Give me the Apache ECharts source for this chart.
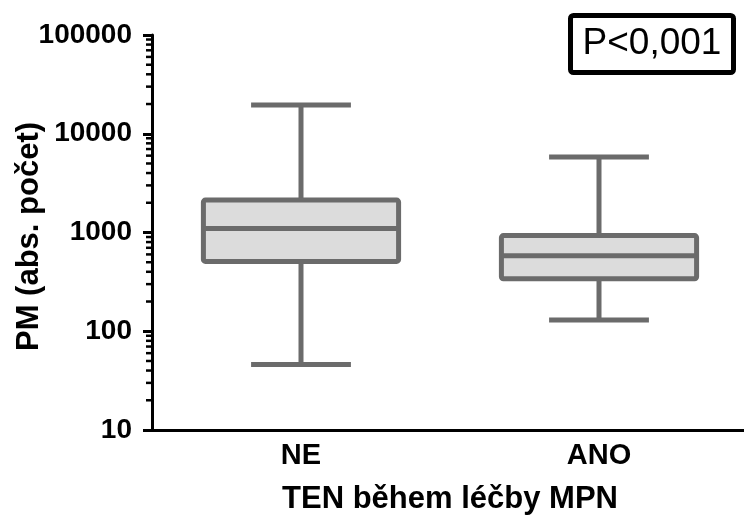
<!DOCTYPE html>
<html>
<head>
<meta charset="utf-8">
<script src="https://cdn.jsdelivr.net/npm/echarts@6/dist/echarts.min.js"></script>
<style>html,body{margin:0;padding:0;background:#fff;}#c{width:744px;height:526px;}</style>
</head>
<body>
<div id="c"></div>
<script>
// Data
const categories = ['NE', 'ANO'];
const whiskerLow = [46, 130];
const q1 = [510, 340];
const median = [1100, 580];
const q3 = [2130, 930];
const whiskerHigh = [19500, 5800];
const yTicks = [10, 100, 1000, 10000, 100000];
const minorMultipliers = [2, 3, 4, 5, 6, 7, 8, 9];
const pText = 'P<0,001';

const boxData = categories.map((c, i) => [i, whiskerLow[i], q1[i], median[i], q3[i], whiskerHigh[i]]);
const minorTickValues = [];
for (let d = 0; d < yTicks.length - 1; d++) {
  minorMultipliers.forEach(m => minorTickValues.push([0, yTicks[d] * m]));
}

const STROKE = '#6b6b6b';
const FILL = '#dcdcdc';
const FONT = '"Liberation Sans", Arial, Helvetica, sans-serif';

const chart = echarts.init(document.getElementById('c'), null, {renderer: 'canvas'});
chart.setOption({
  backgroundColor: '#ffffff',
  animation: false,
  grid: {left: 152, right: -4, top: 35, bottom: 96, containLabel: false, outerBoundsMode: 'none'},
  xAxis: {
    type: 'category',
    data: categories,
    boundaryGap: true,
    axisLine: {lineStyle: {color: '#000', width: 3}},
    axisTick: {alignWithLabel: true, length: 9, lineStyle: {color: '#000', width: 3}},
    axisLabel: {color: '#000', fontSize: 29, fontWeight: 'bold', fontFamily: FONT, margin: 11},
    name: 'TEN během léčby MPN',
    nameLocation: 'middle',
    nameGap: 54,
    nameMoveOverlap: false,
    nameTextStyle: {color: '#000', fontSize: 31, fontWeight: 'bold', fontFamily: FONT},
    splitLine: {show: false}
  },
  yAxis: {
    type: 'log',
    logBase: 10,
    min: 10,
    max: 100000,
    axisLine: {show: true, lineStyle: {color: '#000', width: 3}},
    axisTick: {show: true, length: 9, lineStyle: {color: '#000', width: 3}},
    axisLabel: {
      color: '#000', fontSize: 28, fontWeight: 'bold', fontFamily: FONT, margin: 20,
      formatter: v => String(Math.round(v))
    },
    splitLine: {show: false},
    name: 'PM (abs. počet)',
    nameLocation: 'middle',
    nameGap: 123,
    nameRotate: 90,
    nameMoveOverlap: false,
    nameTextStyle: {color: '#000', fontSize: 31, fontWeight: 'bold', fontFamily: FONT,
      verticalAlign: 'middle', padding: [0, 8, 0, 0]}
  },
  series: [
    {
      type: 'custom',
      name: 'box',
      data: boxData,
      encode: {x: 0, y: [1, 2, 3, 4, 5]},
      clip: false,
      z: 5,
      renderItem: function (params, api) {
        const idx = api.value(0);
        const pLow = api.coord([idx, api.value(1)]);
        const pQ1 = api.coord([idx, api.value(2)]);
        const pMed = api.coord([idx, api.value(3)]);
        const pQ3 = api.coord([idx, api.value(4)]);
        const pHigh = api.coord([idx, api.value(5)]);
        const band = api.size([1, 0])[0];
        const cx = pMed[0];
        const boxW = band * 0.655;
        const capW = band * 0.335;
        const ls = {stroke: STROKE, lineWidth: 5, fill: null};
        return {
          type: 'group',
          children: [
            {type: 'line', shape: {x1: cx, y1: pHigh[1], x2: cx, y2: pQ3[1]}, style: ls},
            {type: 'line', shape: {x1: cx, y1: pQ1[1], x2: cx, y2: pLow[1]}, style: ls},
            {type: 'line', shape: {x1: cx - capW / 2, y1: pHigh[1], x2: cx + capW / 2, y2: pHigh[1]}, style: ls},
            {type: 'line', shape: {x1: cx - capW / 2, y1: pLow[1], x2: cx + capW / 2, y2: pLow[1]}, style: ls},
            {type: 'rect', shape: {x: cx - boxW / 2, y: pQ3[1], width: boxW, height: pQ1[1] - pQ3[1], r: 2},
              style: {fill: FILL, stroke: STROKE, lineWidth: 5}},
            {type: 'line', shape: {x1: cx - boxW / 2, y1: pMed[1], x2: cx + boxW / 2, y2: pMed[1]}, style: ls}
          ]
        };
      }
    },
    {
      type: 'custom',
      name: 'minorTicks',
      data: minorTickValues,
      encode: {x: 0, y: 1},
      clip: false,
      silent: true,
      z: 6,
      renderItem: function (params, api) {
        const p = api.coord([0, api.value(1)]);
        const x0 = params.coordSys.x;
        return {type: 'line', shape: {x1: x0 - 6, y1: p[1], x2: x0, y2: p[1]},
          style: {stroke: '#000', lineWidth: 2.5}};
      }
    }
  ],
  graphic: [
    {
      type: 'group',
      left: 568,
      top: 13,
      children: [
        {type: 'rect', shape: {x: 2.5, y: 2.5, width: 163, height: 57, r: 3},
          style: {fill: '#fff', stroke: '#000', lineWidth: 5}},
        {type: 'text', x: 84, y: 31,
          style: {text: pText, fill: '#000', font: '37px ' + FONT, align: 'center', verticalAlign: 'middle'}}
      ]
    }
  ]
});
</script>
</body>
</html>
